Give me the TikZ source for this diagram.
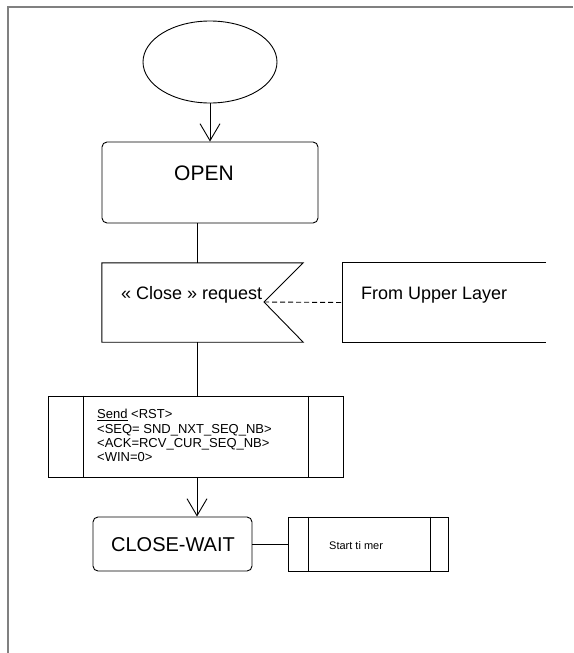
\documentclass[tikz,border=0pt]{standalone}
\usepackage{fontspec}
\setmainfont{Liberation Sans}
\usetikzlibrary{shapes.geometric,arrows.meta,calc}
\definecolor{framegray}{RGB}{128,128,128}
\begin{document}
\begin{tikzpicture}[x=1pt,y=-1pt,
  line/.style={line width=0.9pt, draw=black},
  stbox/.style={draw, line width=0.9pt, rounded corners=5pt, inner sep=0pt},
  plainbox/.style={draw, line width=0.9pt, inner sep=0pt},
  ghost/.style={inner sep=0pt},
  arr/.style={line, -{Straight Barb[length=17pt,width=20pt,line width=0.9pt]}},
  txt/.style={inner sep=0pt},
]
\useasboundingbox (0,0) rectangle (573,653);
% frame
\draw[line width=2pt, draw=framegray] (7.5,653) -- (7.5,7) -- (573,7);
\coordinate (spine) at (197,0);

% start
\node[draw, ellipse, line width=0.9pt, minimum width=134pt, minimum height=82pt, inner sep=0pt] (start) at (210,62) {};

% OPEN state
\node[stbox, minimum width=216pt, minimum height=81pt] (open) at (210,182.5) {};
\node[txt, font=\fontsize{21}{24}\selectfont] (opentxt) at (204,173) {OPEN};
\draw[arr] (start.south) -- (open.north);

% input signal
\node[ghost, minimum width=201pt, minimum height=79pt] (req) at (202.5,302.5) {};
\coordinate (notch) at (264,302);
\draw[line] (req.north west) -- (req.north east) -- (notch) -- (req.south east) -- (req.south west) -- cycle;
\node[txt, anchor=base west, font=\fontsize{18}{21}\selectfont] (reqtxt) at (121,299) {« Close » request};
\draw[line] (open.south -| spine) -- (req.north -| spine);

% from upper layer
\node[ghost, minimum width=203pt, minimum height=79pt] (from) at (444.5,302.5) {};
\draw[line] (from.north east) -- (from.north west) -- (from.south west) -- (from.south east);
\node[txt, anchor=base west, font=\fontsize{18}{21}\selectfont] (fromtxt) at (361,299) {From Upper Layer};
\draw[line, dash pattern=on 5pt off 3pt] (notch) -- (from.west);

% task
\node[plainbox, minimum width=295pt, minimum height=81pt] (task) at (195.5,436.5) {};
\draw[line] ($(task.north west)+(36,0)$) -- ($(task.south west)+(36,0)$);
\draw[line] ($(task.north east)+(-35,0)$) -- ($(task.south east)+(-35,0)$);
\draw[line] (req.south -| spine) -- (task.north -| spine);
\node[txt, anchor=base west, font=\fontsize{13}{14}\selectfont] (t1) at (97,418.7) {\underline{Send} <RST>};
\node[txt, anchor=base west, font=\fontsize{13}{14}\selectfont] (t2) at (97,433) {<SEQ= SND\_NXT\_SEQ\_NB>};
\node[txt, anchor=base west, font=\fontsize{13}{14}\selectfont] (t3) at (97,447.3) {<ACK=RCV\_CUR\_SEQ\_NB>};
\node[txt, anchor=base west, font=\fontsize{13}{14}\selectfont] (t4) at (97,461.7) {<WIN=0>};

% CLOSE-WAIT
\node[stbox, minimum width=159pt, minimum height=54pt] (cw) at (172.5,544) {};
\node[txt, font=\fontsize{20}{24}\selectfont] (cwtxt) at (173,545) {CLOSE-WAIT};
\draw[arr] (task.south -| spine) -- (cw.north -| spine);

% timer
\node[plainbox, minimum width=160pt, minimum height=54pt] (timer) at (368,544) {};
\draw[line] ($(timer.north west)+(21,0)$) -- ($(timer.south west)+(21,0)$);
\draw[line] ($(timer.north east)+(-18,0)$) -- ($(timer.south east)+(-18,0)$);
\node[txt, anchor=west, font=\fontsize{11}{13}\selectfont] (timertxt) at (329,546) {Start ti mer};
\draw[line] (cw.east) -- (timer.west);
\end{tikzpicture}
\end{document}
